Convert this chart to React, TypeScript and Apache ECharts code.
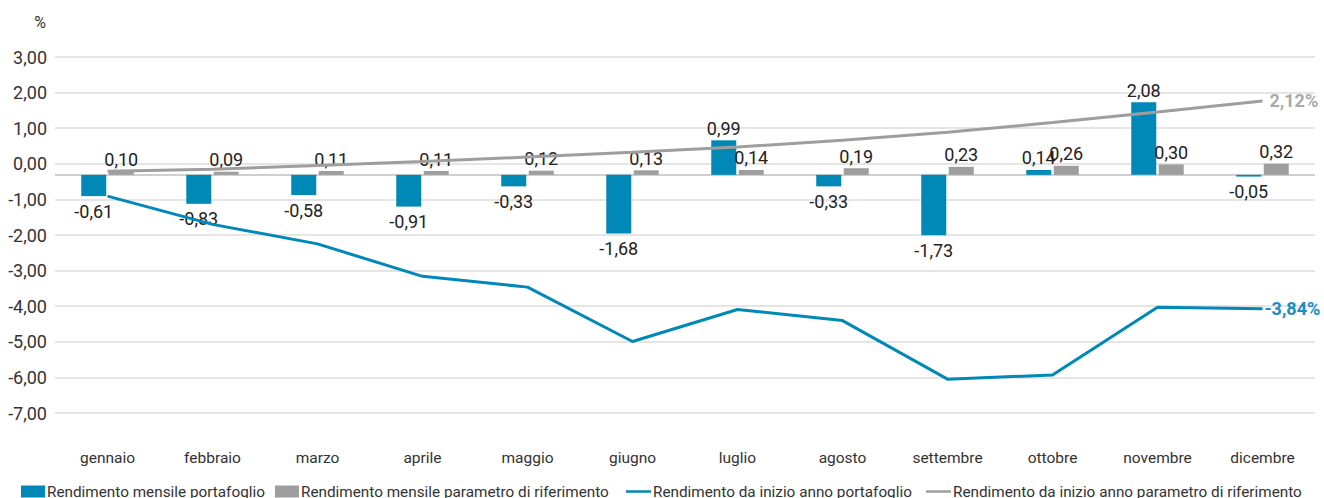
import React, { useEffect, useRef } from "react";
import * as echarts from "echarts";

const months = ["gennaio","febbraio","marzo","aprile","maggio","giugno","luglio","agosto","settembre","ottobre","novembre","dicembre"];
const monthlyPortfolio = [-0.61,-0.83,-0.58,-0.91,-0.33,-1.68,0.99,-0.33,-1.73,0.14,2.08,-0.05];
const monthlyBenchmark = [0.10,0.09,0.11,0.11,0.12,0.13,0.14,0.19,0.23,0.26,0.30,0.32];
const ytdPortfolio = [-0.61,-1.42,-1.98,-2.91,-3.22,-4.78,-3.86,-4.18,-5.86,-5.74,-3.80,-3.84];
const ytdBenchmark = [0.10,0.16,0.27,0.38,0.51,0.65,0.80,0.99,1.22,1.50,1.80,2.12];
const seriesNames = [
  "Rendimento mensile portafoglio",
  "Rendimento mensile parametro di riferimento",
  "Rendimento da inizio anno portafoglio",
  "Rendimento da inizio anno parametro di riferimento",
];
const legendLefts = [16, 270, 621, 921];

const BLUE = "#0088b7";
const GRAY = "#9e9e9e";
const FONT = "Roboto";
const fmt = (v: number) => v.toFixed(2).replace(".", ",");
const LINE_ICON = "path://M0,10L25,10L25,12.5L0,12.5Z";

export default function App() {
  const ref = useRef<HTMLDivElement>(null);
  useEffect(() => {
    if (!ref.current) return;
    const chart = echarts.init(ref.current, undefined, { renderer: "svg" });
    const barLabel = (v: number) => ({
      value: v,
      label: { position: v < 0 ? "bottom" : "top", distance: v < 0 ? 6 : 3 },
    });
    chart.setOption({
      animation: false,
      textStyle: { fontFamily: FONT },
      grid: { left: 55, right: 9, top: 57, bottom: 85, containLabel: false },
      legend: seriesNames.map((name, i) => ({
        left: legendLefts[i],
        top: 479,
        itemWidth: i < 2 ? 24 : 25,
        itemHeight: 12,
        textStyle: { fontFamily: FONT, fontSize: 15.3, color: "#333", padding: [0, 0, 0, -3] },
        data: [{ name, icon: i < 2 ? "rect" : LINE_ICON }],
      })),
      xAxis: {
        type: "category",
        data: months,
        boundaryGap: true,
        axisLine: { show: false },
        axisTick: { show: false },
        axisLabel: { margin: 37, fontFamily: FONT, fontSize: 15.5, color: "#333" },
      },
      yAxis: [
        {
          type: "value",
          min: -7,
          max: 3,
          interval: 1,
          name: "%",
          nameGap: 27,
          nameTextStyle: { fontFamily: FONT, fontSize: 16, color: "#333", align: "right", padding: [0, 9, 0, 0] },
          axisLine: { show: false },
          axisTick: { show: false },
          axisLabel: { margin: 8, fontFamily: FONT, fontSize: 18, color: "#333", formatter: (v: number) => fmt(v) },
          splitLine: { lineStyle: { color: "#dcdcdc", width: 1.5 } },
        },
        {
          type: "value",
          min: -6.83,
          max: 3.38,
          show: false,
          splitLine: { show: false },
        },
      ],
      series: [
        {
          name: seriesNames[0],
          type: "bar",
          yAxisIndex: 1,
          barWidth: 25,
          barGap: "10%",
          itemStyle: { color: BLUE },
          label: { show: true, fontFamily: FONT, fontSize: 18, color: "#222", formatter: (p: any) => fmt(p.value) },
          data: monthlyPortfolio.map(barLabel),
          markLine: {
            silent: true,
            symbol: "none",
            label: { show: false },
            lineStyle: { color: "#cfcfcf", width: 2, type: "solid" },
            data: [{ yAxis: 0 }],
            z: 1,
          },
        },
        {
          name: seriesNames[1],
          type: "bar",
          yAxisIndex: 1,
          barWidth: 25,
          itemStyle: { color: GRAY },
          label: { show: true, position: "top", distance: 3, fontFamily: FONT, fontSize: 18, color: "#222", formatter: (p: any) => fmt(p.value) },
          data: monthlyBenchmark,
        },
        {
          name: seriesNames[2],
          type: "line",
          yAxisIndex: 1,
          symbol: "none",
          showSymbol: false,
          lineStyle: { color: BLUE, width: 3 },
          itemStyle: { color: BLUE },
          endLabel: {
            show: true,
            distance: 2,
            fontFamily: FONT,
            fontSize: 18,
            fontWeight: "bold",
            color: "#1a8ec0",
            formatter: (p: any) => fmt(p.value) + "%",
          },
          data: ytdPortfolio,
          z: 5,
        },
        {
          name: seriesNames[3],
          type: "line",
          yAxisIndex: 1,
          symbol: "none",
          showSymbol: false,
          lineStyle: { color: GRAY, width: 3 },
          itemStyle: { color: GRAY },
          endLabel: {
            show: true,
            distance: 7,
            fontFamily: FONT,
            fontSize: 18,
            fontWeight: "bold",
            color: "#aaaaaa",
            formatter: (p: any) => fmt(p.value) + "%",
          },
          data: ytdBenchmark,
          z: 4,
        },
      ],
    });
    return () => chart.dispose();
  }, []);
  return <div ref={ref} style={{ width: 1324, height: 498, position: "absolute", left: 0, top: 0 }} />;
}
